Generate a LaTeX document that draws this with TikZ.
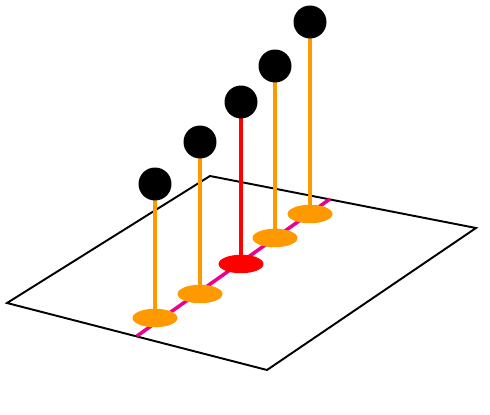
\documentclass[tikz,border=0pt]{standalone}
\usepackage{tikz}
\usetikzlibrary{shapes.geometric}
\definecolor{amber}{RGB}{255,153,0}

\begin{document}
\begin{tikzpicture}[
          x={(0.02cm,0)}, y={(0,-0.02cm)},
          plane/.style={draw=black, line width=1.1pt, line join=miter},
          axis/.style={draw=magenta, line width=2pt},
          stem/.style={line width=2.6pt, draw=amber},
          disc/.style={ellipse, fill=amber, inner sep=0pt, minimum width=0.9cm, minimum height=0.37cm},
          ball/.style={circle, fill=black, inner sep=0pt, minimum size=0.66cm},
        ]
          \useasboundingbox (0,0) rectangle (490,415);
          %% plane corners
          \coordinate (pl) at (7,303);
          \coordinate (pt) at (210,176);
          \coordinate (pr) at (476,228);
          \coordinate (pb) at (267,370);
          \draw[plane] (pl) -- (pt) -- (pr) -- (pb) -- cycle;

          %% line across the plane
          \coordinate (a0) at (137,336);
          \coordinate (a1) at (330,199);
          \draw[axis] (a0) -- (a1);

          %% foot and top points
          \coordinate (f1) at (155,318);  \coordinate (t1) at (155,184);
          \coordinate (f2) at (200,294);  \coordinate (t2) at (200,142);
          \coordinate (f3) at (241,264);  \coordinate (t3) at (241,102);
          \coordinate (f4) at (275,238);  \coordinate (t4) at (275,66);
          \coordinate (f5) at (310,214);  \coordinate (t5) at (310,22);

          %% stems
          \draw[stem] (f1) -- (t1);
          \draw[stem] (f2) -- (t2);
          \draw[stem, draw=red] (f3) -- (t3);
          \draw[stem] (f4) -- (t4);
          \draw[stem] (f5) -- (t5);

          %% discs on the plane
          \node[disc] (disc1) at (f1) {};
          \node[disc] (disc2) at (f2) {};
          \node[disc, fill=red] (disc3) at (f3) {};
          \node[disc] (disc4) at (f4) {};
          \node[disc] (disc5) at (f5) {};

          %% balls
          \node[ball] (ball1) at (t1) {};
          \node[ball] (ball2) at (t2) {};
          \node[ball] (ball3) at (t3) {};
          \node[ball] (ball4) at (t4) {};
          \node[ball] (ball5) at (t5) {};
        \end{tikzpicture}
\end{document}
